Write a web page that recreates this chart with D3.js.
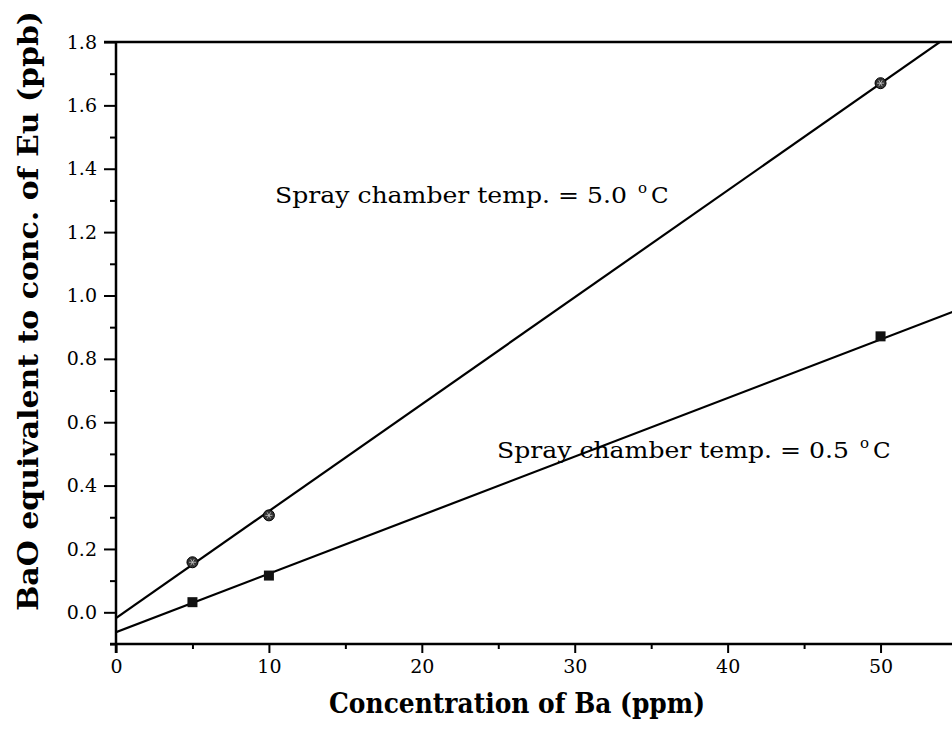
<!DOCTYPE html>
<html>
<head>
<meta charset="utf-8">
<script src="https://cdn.jsdelivr.net/npm/d3@7"></script>
<style>
  html, body { margin: 0; padding: 0; background: #fff; }
  svg { display: block; }
  text { font-family: "DejaVu Serif", "Liberation Serif", serif; fill: #000; }
</style>
</head>
<body>
<svg id="chart" width="952" height="742"></svg>
<script>
// ---- data ----
const concBa = [5, 10, 50];
const series5C = [0.158, 0.306, 1.670];    // Spray chamber temp. = 5.0 °C
const series05C = [0.032, 0.116, 0.871];   // Spray chamber temp. = 0.5 °C
const fit5C = [-0.018, 0.03374];           // intercept, slope of drawn regression line
const fit05C = [-0.063, 0.01848];
const xTicks = [0, 10, 20, 30, 40, 50];
const yTicks = [0.0, 0.2, 0.4, 0.6, 0.8, 1.0, 1.2, 1.4, 1.6, 1.8];
const labels = ["Spray chamber temp. = 5.0", "Spray chamber temp. = 0.5"];

const svg = d3.select("#chart");
const x = d3.scaleLinear().domain([0, 55]).range([116, 957]);
const y = d3.scaleLinear().domain([-0.1, 1.8]).range([644, 42]);

svg.append("clipPath").attr("id", "clip")
  .append("rect").attr("x", 116).attr("y", 42).attr("width", 841).attr("height", 602);

// ---- axes ----
const xAxis = d3.axisBottom(x).tickValues(xTicks).tickSize(9).tickPadding(5).tickFormat(d3.format("d"));
const gx = svg.append("g").attr("transform", "translate(0,644)").call(xAxis)
  .attr("font-size", 19).attr("font-family", "DejaVu Serif");
gx.select(".domain").remove();
gx.selectAll(".tick line").attr("stroke", "#000").attr("stroke-width", 2);
gx.selectAll(".tick text").attr("dy", "0.8em");
const gxm = svg.append("g").attr("transform", "translate(0,644)")
  .call(d3.axisBottom(x).tickValues([5, 15, 25, 35, 45]).tickSize(5).tickFormat(""));
gxm.select(".domain").remove();
gxm.selectAll(".tick line").attr("stroke", "#000").attr("stroke-width", 2);

const yAxis = d3.axisLeft(y).tickValues(yTicks).tickSize(12).tickPadding(7).tickFormat(d3.format(".1f"));
const gy = svg.append("g").attr("transform", "translate(116,0)").call(yAxis)
  .attr("font-size", 19).attr("font-family", "DejaVu Serif");
gy.select(".domain").remove();
gy.selectAll(".tick line").attr("stroke", "#000").attr("stroke-width", 2);
const gym = svg.append("g").attr("transform", "translate(116,0)")
  .call(d3.axisLeft(y).tickValues(d3.range(-0.1, 1.8, 0.2).map(v => +v.toFixed(1))).tickSize(6).tickFormat(""));
gym.select(".domain").remove();
gym.selectAll(".tick line").attr("stroke", "#000").attr("stroke-width", 2);

// frame lines
svg.append("line").attr("x1", 110).attr("x2", 952).attr("y1", y(-0.1)).attr("y2", y(-0.1))
  .attr("stroke", "#000").attr("stroke-width", 2.5);
svg.append("line").attr("x1", 104).attr("x2", 952).attr("y1", y(1.8)).attr("y2", y(1.8))
  .attr("stroke", "#000").attr("stroke-width", 2.5);
svg.append("line").attr("x1", x(0)).attr("x2", x(0)).attr("y1", y(1.8)).attr("y2", y(-0.1) + 9)
  .attr("stroke", "#000").attr("stroke-width", 2.5);

// ---- fit lines ----
const plot = svg.append("g").attr("clip-path", "url(#clip)");
[fit5C, fit05C].forEach(f => {
  const pts = [0, 55].map(c => [x(c), y(f[0] + f[1] * c)]);
  plot.append("path").attr("d", d3.line()(pts)).attr("fill", "none")
    .attr("stroke", "#000").attr("stroke-width", 2.2);
});

// ---- markers ----
const mk5 = svg.append("g");
concBa.forEach((c, i) => {
  const cx = x(c), cy = y(series5C[i]);
  mk5.append("circle").attr("cx", cx).attr("cy", cy).attr("r", 5.5)
    .attr("fill", "#333").attr("stroke", "#000").attr("stroke-width", 1);
  [0, 60, 120].forEach(a => {
    const r = 3.5, rad = a * Math.PI / 180;
    mk5.append("line").attr("x1", cx - r * Math.cos(rad)).attr("y1", cy - r * Math.sin(rad))
      .attr("x2", cx + r * Math.cos(rad)).attr("y2", cy + r * Math.sin(rad))
      .attr("stroke", "#ccc").attr("stroke-width", 0.8);
  });
});
const mk05 = svg.append("g");
concBa.forEach((c, i) => {
  mk05.append("rect").attr("x", x(c) - 5).attr("y", y(series05C[i]) - 5)
    .attr("width", 10).attr("height", 10).attr("fill", "#111");
});

// ---- annotations ----
function annot(tx, ty, str) {
  const t = svg.append("text").attr("x", tx).attr("y", ty).style("font-size", "23px");
  t.append("tspan").attr("textLength", 352).attr("lengthAdjust", "spacingAndGlyphs").text(str);
  t.append("tspan").attr("dx", 11).attr("dy", -10).style("font-size", "15px").text("o");
  t.append("tspan").attr("dx", 4).attr("dy", 10).text("C");
}
annot(275, 203, labels[0]);
annot(497, 458, labels[1]);

// ---- axis titles ----
svg.append("text").attr("x", 517).attr("y", 713).attr("text-anchor", "middle")
  .style("font-size", "28px").style("font-weight", "bold")
  .attr("textLength", 376).attr("lengthAdjust", "spacingAndGlyphs")
  .text("Concentration of Ba (ppm)");
svg.append("text").attr("transform", "translate(38,311) rotate(-90)").attr("text-anchor", "middle")
  .style("font-size", "28px").style("font-weight", "bold")
  .attr("textLength", 600).attr("lengthAdjust", "spacingAndGlyphs")
  .text("BaO equivalent to conc. of Eu (ppb)");
</script>
</body>
</html>
